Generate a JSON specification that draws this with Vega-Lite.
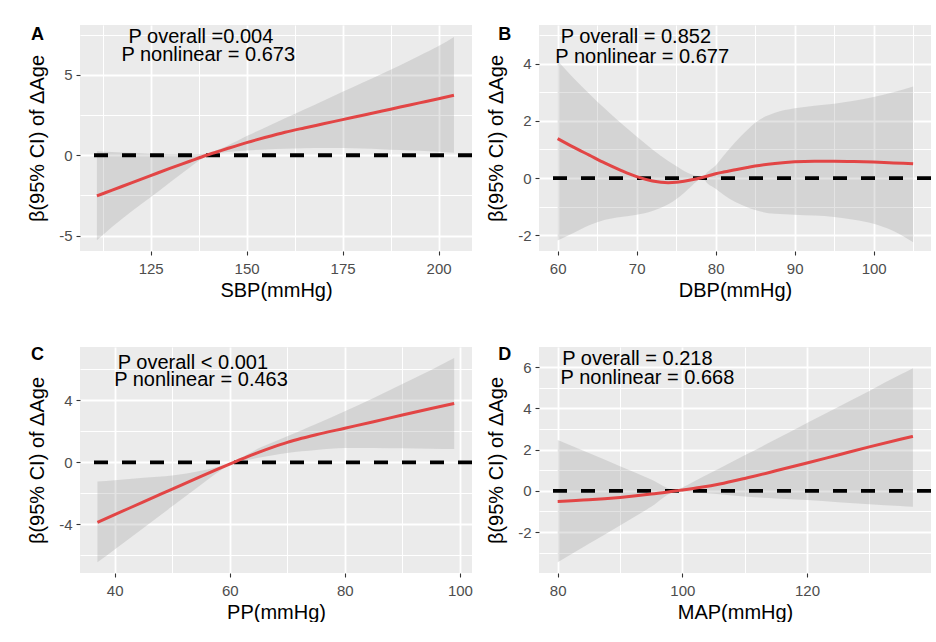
{
  "$schema": "https://vega.github.io/schema/vega-lite/v6.json",
  "padding": {"left": 27, "top": 25, "right": 0, "bottom": 0},
  "background": "white",
  "columns": 2,
  "spacing": {"row": 96, "column": 67},
  "bounds": "flush",
  "config": {
    "font": "Liberation Sans",
    "view": {"fill": "#EBEBEB", "stroke": null},
    "axis": {
      "domain": false,
      "tickColor": "#333333",
      "tickSize": 4,
      "tickWidth": 1.1,
      "tickCount": 30,
      "labelColor": "#4D4D4D",
      "labelFont": "Liberation Sans",
      "labelFontSize": 15,
      "titleFont": "Liberation Sans",
      "titleFontSize": 20,
      "titleFontWeight": "normal",
      "titleColor": "black",
      "gridColor": "white",
      "labelOverlap": false,
      "labelFlush": false,
      "titleBaseline": "alphabetic"
    },
    "axisX": {"minExtent": 25, "maxExtent": 25, "titlePadding": 20, "labelPadding": 6},
    "axisY": {"minExtent": 25, "maxExtent": 25, "titlePadding": 12, "labelPadding": 4}
  },
  "datasets": {
    "A": [
      {"x": 111, "fit": -2.53, "lo": -5.29, "hi": 0.25},
      {"x": 115, "fit": -2.17, "lo": -4.45, "hi": 0.2},
      {"x": 120, "fit": -1.72, "lo": -3.5, "hi": 0.15},
      {"x": 125, "fit": -1.27, "lo": -2.62, "hi": 0.1},
      {"x": 130, "fit": -0.82, "lo": -1.7, "hi": 0.06},
      {"x": 135, "fit": -0.39, "lo": -0.8, "hi": 0.05},
      {"x": 139.5, "fit": 0.0, "lo": -0.06, "hi": 0.1},
      {"x": 142, "fit": 0.19, "lo": 0.1, "hi": 0.3},
      {"x": 145, "fit": 0.42, "lo": 0.2, "hi": 0.6},
      {"x": 150, "fit": 0.79, "lo": 0.3, "hi": 1.2},
      {"x": 155, "fit": 1.12, "lo": 0.36, "hi": 1.75},
      {"x": 160, "fit": 1.43, "lo": 0.4, "hi": 2.3},
      {"x": 165, "fit": 1.7, "lo": 0.43, "hi": 2.85},
      {"x": 170, "fit": 1.96, "lo": 0.45, "hi": 3.4},
      {"x": 175, "fit": 2.22, "lo": 0.45, "hi": 3.95},
      {"x": 180, "fit": 2.48, "lo": 0.42, "hi": 4.5},
      {"x": 185, "fit": 2.74, "lo": 0.38, "hi": 5.05},
      {"x": 190, "fit": 3.0, "lo": 0.33, "hi": 5.6},
      {"x": 195, "fit": 3.26, "lo": 0.28, "hi": 6.2},
      {"x": 200, "fit": 3.52, "lo": 0.22, "hi": 6.8},
      {"x": 204, "fit": 3.74, "lo": 0.15, "hi": 7.37}
    ],
    "B": [
      {"x": 60, "fit": 1.38, "lo": -2.18, "hi": 4.1},
      {"x": 62, "fit": 1.08, "lo": -1.92, "hi": 3.5},
      {"x": 64, "fit": 0.8, "lo": -1.65, "hi": 2.95},
      {"x": 66, "fit": 0.52, "lo": -1.46, "hi": 2.42},
      {"x": 68, "fit": 0.27, "lo": -1.36, "hi": 1.92},
      {"x": 70, "fit": 0.05, "lo": -1.28, "hi": 1.45},
      {"x": 72, "fit": -0.1, "lo": -1.15, "hi": 1.0},
      {"x": 74, "fit": -0.16, "lo": -0.92, "hi": 0.6},
      {"x": 75, "fit": -0.15, "lo": -0.74, "hi": 0.42},
      {"x": 76, "fit": -0.11, "lo": -0.52, "hi": 0.25},
      {"x": 77, "fit": -0.06, "lo": -0.27, "hi": 0.12},
      {"x": 78.3, "fit": 0.02, "lo": -0.02, "hi": 0.04},
      {"x": 79, "fit": 0.07, "lo": -0.2, "hi": 0.22},
      {"x": 80, "fit": 0.15, "lo": -0.37, "hi": 0.44},
      {"x": 81, "fit": 0.21, "lo": -0.58, "hi": 0.78},
      {"x": 82.5, "fit": 0.29, "lo": -0.84, "hi": 1.26},
      {"x": 84, "fit": 0.37, "lo": -1.02, "hi": 1.68},
      {"x": 85, "fit": 0.42, "lo": -1.12, "hi": 1.93},
      {"x": 87.5, "fit": 0.51, "lo": -1.25, "hi": 2.28},
      {"x": 90, "fit": 0.57, "lo": -1.28, "hi": 2.44},
      {"x": 92.5, "fit": 0.59, "lo": -1.31, "hi": 2.53},
      {"x": 95, "fit": 0.59, "lo": -1.36, "hi": 2.6},
      {"x": 97.5, "fit": 0.58, "lo": -1.46, "hi": 2.7},
      {"x": 100, "fit": 0.56, "lo": -1.6, "hi": 2.83},
      {"x": 102.5, "fit": 0.53, "lo": -1.85, "hi": 3.0},
      {"x": 105, "fit": 0.5, "lo": -2.24, "hi": 3.2}
    ],
    "C": [
      {"x": 37, "fit": -3.87, "lo": -6.45, "hi": -1.23},
      {"x": 40, "fit": -3.375, "lo": -5.62, "hi": -1.15},
      {"x": 45, "fit": -2.55, "lo": -4.23, "hi": -1.0},
      {"x": 50, "fit": -1.725, "lo": -2.84, "hi": -0.85},
      {"x": 55, "fit": -0.9, "lo": -1.45, "hi": -0.55},
      {"x": 58, "fit": -0.42, "lo": -0.62, "hi": -0.28},
      {"x": 60.7, "fit": 0.0, "lo": -0.03, "hi": 0.03},
      {"x": 63, "fit": 0.35, "lo": 0.15, "hi": 0.5},
      {"x": 65, "fit": 0.64, "lo": 0.3, "hi": 0.9},
      {"x": 67.5, "fit": 0.98, "lo": 0.46, "hi": 1.29},
      {"x": 70, "fit": 1.29, "lo": 0.6, "hi": 1.68},
      {"x": 72.5, "fit": 1.55, "lo": 0.71, "hi": 2.07},
      {"x": 75, "fit": 1.78, "lo": 0.8, "hi": 2.47},
      {"x": 80, "fit": 2.2, "lo": 0.92, "hi": 3.3},
      {"x": 85, "fit": 2.62, "lo": 0.93, "hi": 4.15},
      {"x": 90, "fit": 3.05, "lo": 0.9, "hi": 5.05},
      {"x": 95, "fit": 3.47, "lo": 0.88, "hi": 5.95},
      {"x": 99, "fit": 3.8, "lo": 0.86, "hi": 6.73}
    ],
    "D": [
      {"x": 80, "fit": -0.52, "lo": -3.47, "hi": 2.47},
      {"x": 85, "fit": -0.44, "lo": -2.57, "hi": 1.83},
      {"x": 90, "fit": -0.32, "lo": -1.68, "hi": 1.19},
      {"x": 95, "fit": -0.16, "lo": -0.78, "hi": 0.55},
      {"x": 99, "fit": 0.0, "lo": -0.05, "hi": 0.03},
      {"x": 100, "fit": 0.04, "lo": -0.06, "hi": 0.16},
      {"x": 103, "fit": 0.17, "lo": -0.11, "hi": 0.63},
      {"x": 106, "fit": 0.33, "lo": -0.17, "hi": 1.1},
      {"x": 110, "fit": 0.6, "lo": -0.28, "hi": 1.72},
      {"x": 115, "fit": 0.97, "lo": -0.37, "hi": 2.5},
      {"x": 120, "fit": 1.35, "lo": -0.45, "hi": 3.29},
      {"x": 125, "fit": 1.74, "lo": -0.55, "hi": 4.07},
      {"x": 130, "fit": 2.13, "lo": -0.65, "hi": 4.85},
      {"x": 135, "fit": 2.5, "lo": -0.74, "hi": 5.64},
      {"x": 137, "fit": 2.64, "lo": -0.78, "hi": 5.95}
    ]
  },
  "concat": [
    {
      "width": 392, "height": 226,
      "layer": [
        {"data": {"name": "A"},
         "mark": {"type": "area", "fill": "#999999", "opacity": 0.27, "interpolate": "monotone"},
         "encoding": {
           "x": {"field": "x", "type": "quantitative", "scale": {"domain": [106.6, 208.7], "nice": false, "zero": false},
                 "axis": {"title": "SBP(mmHg)", "tickCount": 30, "values": [112.5, 125, 137.5, 150, 162.5, 175, 187.5, 200],
                          "labelExpr": "datum.value % 25 === 0 ? '' + datum.value : ''",
                          "tickOpacity": {"condition": {"test": "datum.value % 25 === 0", "value": 1}, "value": 0},
                          "gridWidth": {"condition": {"test": "datum.value % 25 === 0", "value": 1.8}, "value": 1}}},
           "y": {"field": "lo", "type": "quantitative", "scale": {"domain": [-5.96, 8.11], "nice": false, "zero": false},
                 "axis": {"title": "β(95% CI) of ΔAge", "tickCount": 30, "values": [-5, -2.5, 0, 2.5, 5, 7.5],
                          "labelExpr": "datum.value % 5 === 0 ? '' + datum.value : ''",
                          "tickOpacity": {"condition": {"test": "datum.value % 5 === 0", "value": 1}, "value": 0},
                          "gridWidth": {"condition": {"test": "datum.value % 5 === 0", "value": 1.8}, "value": 1}}},
           "y2": {"field": "hi"}
         }},
        {"data": {"values": [{"ref": 0}]},
         "mark": {"type": "rule", "color": "black", "strokeWidth": 3.8, "strokeDash": [14, 14]},
         "encoding": {"y": {"field": "ref", "type": "quantitative"}}},
        {"data": {"name": "A"},
         "mark": {"type": "line", "color": "#E24545", "strokeWidth": 3, "interpolate": "monotone"},
         "encoding": {"x": {"field": "x", "type": "quantitative"}, "y": {"field": "fit", "type": "quantitative"}}},
        {"data": {"values": [{"x": 138.1, "y": 6.97, "label": "P overall =0.004"}, {"x": 140, "y": 5.87, "label": "P nonlinear = 0.673"}]},
         "mark": {"type": "text", "fontSize": 20, "align": "center", "baseline": "alphabetic", "color": "black"},
         "encoding": {"x": {"field": "x", "type": "quantitative"}, "y": {"field": "y", "type": "quantitative"}, "text": {"field": "label"}}},
        {"data": {"values": [{"x": 95.5, "y": 7.17, "label": "A"}]},
         "mark": {"type": "text", "fontSize": 18, "fontWeight": "bold", "align": "center", "baseline": "alphabetic", "color": "black"},
         "encoding": {"x": {"field": "x", "type": "quantitative"}, "y": {"field": "y", "type": "quantitative"}, "text": {"field": "label"}}}
      ]
    },
    {
      "width": 392, "height": 226,
      "layer": [
        {"data": {"name": "B"},
         "mark": {"type": "area", "fill": "#999999", "opacity": 0.27, "interpolate": "monotone"},
         "encoding": {
           "x": {"field": "x", "type": "quantitative", "scale": {"domain": [57.64, 107.26], "nice": false, "zero": false},
                 "axis": {"title": "DBP(mmHg)", "tickCount": 30, "values": [60, 65, 70, 75, 80, 85, 90, 95, 100, 105],
                          "labelExpr": "datum.value % 10 === 0 ? '' + datum.value : ''",
                          "tickOpacity": {"condition": {"test": "datum.value % 10 === 0", "value": 1}, "value": 0},
                          "gridWidth": {"condition": {"test": "datum.value % 10 === 0", "value": 1.8}, "value": 1}}},
           "y": {"field": "lo", "type": "quantitative", "scale": {"domain": [-2.55, 5.35], "nice": false, "zero": false},
                 "axis": {"title": "β(95% CI) of ΔAge", "tickCount": 30, "values": [-2, -1, 0, 1, 2, 3, 4, 5],
                          "labelExpr": "datum.value % 2 === 0 ? '' + datum.value : ''",
                          "tickOpacity": {"condition": {"test": "datum.value % 2 === 0", "value": 1}, "value": 0},
                          "gridWidth": {"condition": {"test": "datum.value % 2 === 0", "value": 1.8}, "value": 1}}},
           "y2": {"field": "hi"}
         }},
        {"data": {"values": [{"ref": 0}]},
         "mark": {"type": "rule", "color": "black", "strokeWidth": 3.8, "strokeDash": [14, 14]},
         "encoding": {"y": {"field": "ref", "type": "quantitative"}}},
        {"data": {"name": "B"},
         "mark": {"type": "line", "color": "#E24545", "strokeWidth": 3, "interpolate": "monotone"},
         "encoding": {"x": {"field": "x", "type": "quantitative"}, "y": {"field": "fit", "type": "quantitative"}}},
        {"data": {"values": [{"x": 69.9, "y": 4.71, "label": "P overall = 0.852"}, {"x": 70.7, "y": 4.03, "label": "P nonlinear = 0.677"}]},
         "mark": {"type": "text", "fontSize": 20, "align": "center", "baseline": "alphabetic", "color": "black"},
         "encoding": {"x": {"field": "x", "type": "quantitative"}, "y": {"field": "y", "type": "quantitative"}, "text": {"field": "label"}}},
        {"data": {"values": [{"x": 53.3, "y": 4.83, "label": "B"}]},
         "mark": {"type": "text", "fontSize": 18, "fontWeight": "bold", "align": "center", "baseline": "alphabetic", "color": "black"},
         "encoding": {"x": {"field": "x", "type": "quantitative"}, "y": {"field": "y", "type": "quantitative"}, "text": {"field": "label"}}}
      ]
    },
    {
      "width": 392, "height": 226,
      "layer": [
        {"data": {"name": "C"},
         "mark": {"type": "area", "fill": "#999999", "opacity": 0.27, "interpolate": "monotone"},
         "encoding": {
           "x": {"field": "x", "type": "quantitative", "scale": {"domain": [33.97, 102.1], "nice": false, "zero": false},
                 "axis": {"title": "PP(mmHg)", "tickCount": 30, "values": [40, 50, 60, 70, 80, 90, 100],
                          "labelExpr": "datum.value % 20 === 0 ? '' + datum.value : ''",
                          "tickOpacity": {"condition": {"test": "datum.value % 20 === 0", "value": 1}, "value": 0},
                          "gridWidth": {"condition": {"test": "datum.value % 20 === 0", "value": 1.8}, "value": 1}}},
           "y": {"field": "lo", "type": "quantitative", "scale": {"domain": [-7.14, 7.44], "nice": false, "zero": false},
                 "axis": {"title": "β(95% CI) of ΔAge", "tickCount": 30, "values": [-6, -4, -2, 0, 2, 4, 6],
                          "labelExpr": "datum.value % 4 === 0 ? '' + datum.value : ''",
                          "tickOpacity": {"condition": {"test": "datum.value % 4 === 0", "value": 1}, "value": 0},
                          "gridWidth": {"condition": {"test": "datum.value % 4 === 0", "value": 1.8}, "value": 1}}},
           "y2": {"field": "hi"}
         }},
        {"data": {"values": [{"ref": 0}]},
         "mark": {"type": "rule", "color": "black", "strokeWidth": 3.8, "strokeDash": [14, 14]},
         "encoding": {"y": {"field": "ref", "type": "quantitative"}}},
        {"data": {"name": "C"},
         "mark": {"type": "line", "color": "#E24545", "strokeWidth": 3, "interpolate": "monotone"},
         "encoding": {"x": {"field": "x", "type": "quantitative"}, "y": {"field": "fit", "type": "quantitative"}}},
        {"data": {"values": [{"x": 53.6, "y": 6.0, "label": "P overall < 0.001"}, {"x": 55.0, "y": 4.94, "label": "P nonlinear = 0.463"}]},
         "mark": {"type": "text", "fontSize": 20, "align": "center", "baseline": "alphabetic", "color": "black"},
         "encoding": {"x": {"field": "x", "type": "quantitative"}, "y": {"field": "y", "type": "quantitative"}, "text": {"field": "label"}}},
        {"data": {"values": [{"x": 26.57, "y": 6.6, "label": "C"}]},
         "mark": {"type": "text", "fontSize": 18, "fontWeight": "bold", "align": "center", "baseline": "alphabetic", "color": "black"},
         "encoding": {"x": {"field": "x", "type": "quantitative"}, "y": {"field": "y", "type": "quantitative"}, "text": {"field": "label"}}}
      ]
    },
    {
      "width": 392, "height": 226,
      "layer": [
        {"data": {"name": "D"},
         "mark": {"type": "area", "fill": "#999999", "opacity": 0.27, "interpolate": "monotone"},
         "encoding": {
           "x": {"field": "x", "type": "quantitative", "scale": {"domain": [77.0, 139.9], "nice": false, "zero": false},
                 "axis": {"title": "MAP(mmHg)", "tickCount": 30, "values": [80, 90, 100, 110, 120, 130],
                          "labelExpr": "datum.value % 20 === 0 ? '' + datum.value : ''",
                          "tickOpacity": {"condition": {"test": "datum.value % 20 === 0", "value": 1}, "value": 0},
                          "gridWidth": {"condition": {"test": "datum.value % 20 === 0", "value": 1.8}, "value": 1}}},
           "y": {"field": "lo", "type": "quantitative", "scale": {"domain": [-3.99, 6.98], "nice": false, "zero": false},
                 "axis": {"title": "β(95% CI) of ΔAge", "tickCount": 30, "values": [-3, -2, -1, 0, 1, 2, 3, 4, 5, 6],
                          "labelExpr": "datum.value % 2 === 0 ? '' + datum.value : ''",
                          "tickOpacity": {"condition": {"test": "datum.value % 2 === 0", "value": 1}, "value": 0},
                          "gridWidth": {"condition": {"test": "datum.value % 2 === 0", "value": 1.8}, "value": 1}}},
           "y2": {"field": "hi"}
         }},
        {"data": {"values": [{"ref": 0}]},
         "mark": {"type": "rule", "color": "black", "strokeWidth": 3.8, "strokeDash": [14, 14]},
         "encoding": {"y": {"field": "ref", "type": "quantitative"}}},
        {"data": {"name": "D"},
         "mark": {"type": "line", "color": "#E24545", "strokeWidth": 3, "interpolate": "monotone"},
         "encoding": {"x": {"field": "x", "type": "quantitative"}, "y": {"field": "fit", "type": "quantitative"}}},
        {"data": {"values": [{"x": 92.8, "y": 6.09, "label": "P overall = 0.218"}, {"x": 94.4, "y": 5.17, "label": "P nonlinear = 0.668"}]},
         "mark": {"type": "text", "fontSize": 20, "align": "center", "baseline": "alphabetic", "color": "black"},
         "encoding": {"x": {"field": "x", "type": "quantitative"}, "y": {"field": "y", "type": "quantitative"}, "text": {"field": "label"}}},
        {"data": {"values": [{"x": 71.49, "y": 6.34, "label": "D"}]},
         "mark": {"type": "text", "fontSize": 18, "fontWeight": "bold", "align": "center", "baseline": "alphabetic", "color": "black"},
         "encoding": {"x": {"field": "x", "type": "quantitative"}, "y": {"field": "y", "type": "quantitative"}, "text": {"field": "label"}}}
      ]
    }
  ]
}
